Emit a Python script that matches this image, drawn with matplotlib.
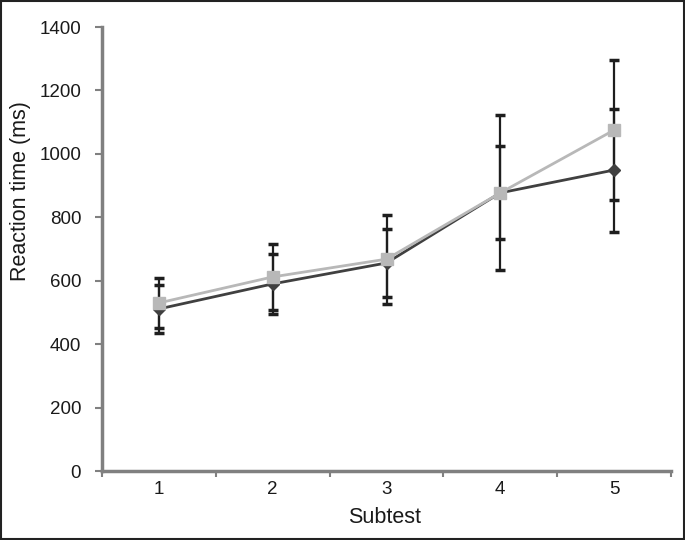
import matplotlib.pyplot as plt
from matplotlib.patches import Rectangle

plt.rcParams['font.family'] = ['Liberation Sans', 'DejaVu Sans']

# Data
subtests = [1, 2, 3, 4, 5]
dark_mean = [511, 590, 656, 877, 949]
dark_err = [76, 94, 106, 147, 194]
light_mean = [530, 612, 668, 877, 1075]
light_err = [80, 104, 140, 244, 220]

fig = plt.figure(figsize=(6.85, 5.4), dpi=100)
ax = fig.add_axes([102/685, 69/540, 569/685, 444/540])

# error bars (behind the lines)
for m, e in [(light_mean, light_err), (dark_mean, dark_err)]:
    ax.errorbar(subtests, m, yerr=e, fmt='none', ecolor='#1e1e1e', elinewidth=1.6,
                capsize=3.5, capthick=2.5, zorder=2)

ax.plot(subtests, dark_mean, color='#404040', lw=2, marker='D', ms=6.5,
        markeredgecolor='#404040', zorder=3)
ax.plot(subtests, light_mean, color='#b8b8b8', lw=2, marker='s', ms=8,
        markeredgecolor='#b8b8b8', zorder=4)

ax.set_xlim(0.5, 5.5)
ax.set_ylim(0, 1400)
ax.set_yticks(range(0, 1401, 200))
ax.set_xticks(subtests)
ax.set_xticks([0.5, 1.5, 2.5, 3.5, 4.5, 5.5], minor=True)
ax.tick_params(axis='x', which='major', length=0, labelsize=13.5, pad=7, colors='#1a1a1a')
ax.tick_params(axis='x', which='minor', length=4, width=1.5, color='#808080')
ax.tick_params(axis='y', length=5, width=1.5, color='#808080', labelsize=13.5,
               labelcolor='#1a1a1a', pad=10)

for side in ['top', 'right']:
    ax.spines[side].set_visible(False)
for side in ['left', 'bottom']:
    ax.spines[side].set_color('#808080')
    ax.spines[side].set_linewidth(2.5)

ax.text(0.496, -0.104, 'Subtest', transform=ax.transAxes, fontsize=15.5,
        ha='center', va='center', color='#1a1a1a')
ax.text(-0.144, 0.63, 'Reaction time (ms)', transform=ax.transAxes, fontsize=15.5,
        rotation=90, ha='center', va='center', color='#1a1a1a')

# thin frame around the figure
fig.patches.append(Rectangle((0.001, 0.001), 0.997, 0.997, transform=fig.transFigure,
                             fill=False, edgecolor='#222222', lw=1.5))

fig.savefig('out.png', dpi=100)
